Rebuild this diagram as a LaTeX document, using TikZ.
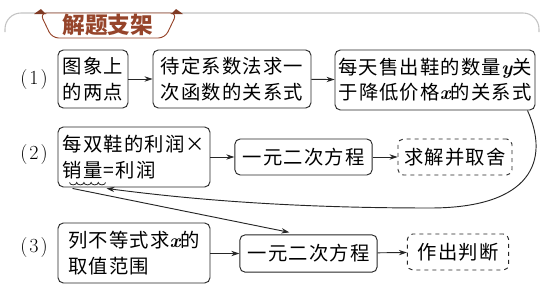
\documentclass[tikz,border=0pt]{standalone}
\usepackage{fontspec}
\newfontfamily\cjk{Noto Sans CJK SC}
\usetikzlibrary{arrows.meta}
\definecolor{tabbrown}{RGB}{150,68,42}
\definecolor{framegray}{RGB}{195,195,195}
\tikzset{
  stepbox/.style={draw=black!85, line width=0.7pt, rounded corners=4pt, inner sep=0pt,
    font=\cjk\fontsize{14.5}{19}\selectfont\addfontfeatures{LetterSpace=6}},
  endbox/.style={stepbox, dashed},
  flow/.style={draw=black!85, line width=0.7pt, -{Stealth[length=6pt,width=4pt]}},
  rowlabel/.style={font=\fontsize{15}{15}\selectfont}
}
\newcommand{\vx}{{\rmfamily\bfseries\itshape x}}
\newcommand{\vy}{{\rmfamily\bfseries\itshape y}}

\begin{document}
\begin{tikzpicture}[x=0.75pt,y=-0.75pt]
\useasboundingbox (0,0) rectangle (544,293);
% title tab
\draw[framegray,line width=0.8pt,rounded corners=12pt] (5,32) -- (5,13) -- (539,13) -- (539,32);
\draw[tabbrown,fill=white,line width=0.7pt,rounded corners=5pt] (40,13) -- (52,38) -- (165,38) -- (177,13) -- cycle;
\fill[tabbrown!85!black] (34,14) -- (41,9) -- (46,14) -- cycle;
\fill[tabbrown!85!black] (171,14) -- (176,9) -- (183,14) -- cycle;
\node[font=\cjk\bfseries\fontsize{17}{17}\selectfont,text=tabbrown] (title) at (108,25) {解题支架};
% row labels
\node[rowlabel] (r1) at (34,80) {(\kern1.5pt1\kern1.5pt)};
\node[rowlabel] (r2) at (34,155) {(\kern1.5pt2\kern1.5pt)};
\node[rowlabel] (r3) at (34,248) {(\kern1.5pt3\kern1.5pt)};
% row 1
\node[stepbox,minimum width=52.5pt,minimum height=43.5pt,align=center] (pts) at (93,79) {图象上\\的两点};
\node[stepbox,minimum width=118.5pt,minimum height=43.5pt,align=center] (coef) at (232,79) {待定系数法求一\\次函数的关系式};
\node[stepbox,minimum width=150pt,minimum height=45pt,align=center] (func) at (435,80) {每天售出鞋的数量\vy 关\\于降低价格\vx 的关系式};
% row 2
\node[stepbox,minimum width=114pt,minimum height=45pt,align=left] (profit) at (134,157) {每双鞋的利润×\\销量=利润};
\node[stepbox,minimum width=103pt,minimum height=27pt] (eqa) at (303.5,157) {一元二次方程};
\node[endbox,minimum width=85.5pt,minimum height=27pt] (solve) at (455,157) {求解并取舍};
% row 3
\node[stepbox,minimum width=114pt,minimum height=45pt,align=left] (ineq) at (134,253) {列不等式求\vx 的\\取值范围};
\node[stepbox,minimum width=103pt,minimum height=28pt] (eqb) at (308.5,253.5) {一元二次方程};
\node[endbox,minimum width=76pt,minimum height=27pt] (judge) at (458,252) {作出判断};
% wavy mark under the key words
\coordinate (wvstart) at ([shift={(12,-5)}]profit.south west);
\coordinate (wvend) at ([shift={(49,1)}]profit.south west);
\coordinate (lnstart) at ([shift={(15,1)}]profit.south west);
\draw[black!85,line width=0.6pt] (wvstart) arc (180:0:3.6 and 2.4) arc (180:0:3.6 and 2.4) arc (180:0:3.6 and 2.4) arc (180:0:3.6 and 2.4) arc (180:0:3.6 and 2.4);
% arrows
\draw[flow] (pts) -- (coef);
\draw[flow] (coef) -- (func);
\draw[flow] (profit.east |- eqa) -- (eqa);
\draw[flow] (eqa) -- (solve);
\draw[flow] (ineq.east |- eqb) -- (eqb);
\draw[flow] (eqb) -- (judge);
\draw[flow] ([shift={(-8,0)}]func.south east) .. controls (550,160) and (532,208) .. (430,208) .. controls (280,208) and (180,198) .. (wvend);
\draw[flow] (lnstart) -- ([shift={(50,-2)}]eqb.north west);
\end{tikzpicture}
\end{document}
